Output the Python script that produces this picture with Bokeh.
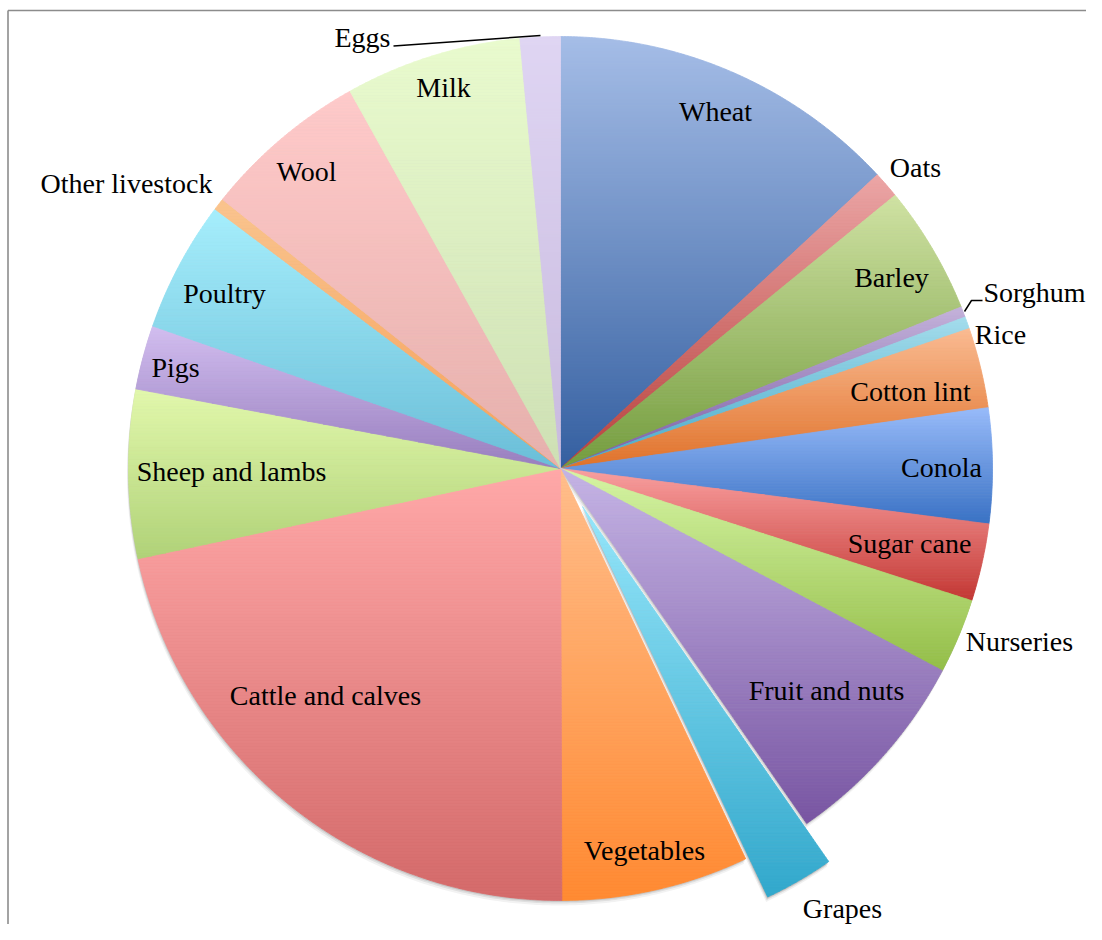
import numpy as np
from bokeh.plotting import figure
from bokeh.models import Range1d, ColumnDataSource
from bokeh.core.properties import value
from bokeh.embed import file_html
from bokeh.resources import INLINE

# ---------------- data ----------------
categories = ["Wheat", "Oats", "Barley", "Sorghum", "Rice", "Cotton lint", "Conola",
              "Sugar cane", "Nurseries", "Fruit and nuts", "Grapes", "Vegetables",
              "Cattle and calves", "Sheep and lambs", "Pigs", "Poultry",
              "Other livestock", "Wool", "Milk", "Eggs"]
shares = [13.1, 1.0, 4.8, 0.4, 0.45, 3.0, 4.3, 2.9, 2.8, 7.6, 2.6, 7.0,
          21.7, 6.3, 2.4, 4.9, 0.45, 6.2, 6.6, 1.5]
exploded = ["Grapes"]

# ---------------- styles ----------------
top_colors = [(165, 189, 231), (236, 166, 166), (207, 226, 163), (196, 178, 218),
              (165, 220, 236), (250, 187, 146), (152, 187, 250), (250, 160, 160),
              (214, 245, 165), (197, 180, 229), (150, 230, 250), (255, 190, 140),
              (255, 168, 168), (226, 248, 172), (210, 190, 240), (166, 238, 252),
              (250, 196, 142), (255, 202, 202), (233, 251, 206), (223, 213, 243)]
bot_colors = [(52, 95, 160), (183, 64, 60), (116, 156, 62), (121, 92, 165),
              (70, 170, 200), (224, 114, 42), (58, 114, 196), (195, 56, 52),
              (148, 190, 72), (120, 85, 162), (50, 168, 204), (255, 138, 50),
              (212, 106, 106), (176, 210, 120), (152, 126, 190), (106, 190, 216),
              (245, 160, 90), (230, 176, 172), (206, 224, 180), (200, 186, 222)]

# label anchors (x centre, y) in picture pixels
label_pos = {
    "Wheat": (715, 111), "Oats": (915, 167), "Barley": (891, 277),
    "Sorghum": (1034, 292), "Rice": (1000, 334), "Cotton lint": (910, 391),
    "Conola": (941, 467), "Sugar cane": (909, 543), "Nurseries": (1019, 641),
    "Fruit and nuts": (826, 690), "Grapes": (842, 908), "Vegetables": (644, 850),
    "Cattle and calves": (325, 695), "Sheep and lambs": (231, 471),
    "Pigs": (175, 367), "Poultry": (224, 293), "Other livestock": (126, 183),
    "Wool": (306, 171), "Milk": (443, 87), "Eggs": (362, 37),
}
leaders = [([393, 540], [45.5, 35]), ([964, 971, 982], [311, 300, 300])]

CX, CY, R = 560.0, 468.0, 432.0
EXPLODE = 44.0
W, H = 1086, 924


def wedge_poly(cx, cy, r, a0, a1):
    n = max(3, int(np.ceil((a1 - a0) / 0.4)) + 1)
    t = np.radians(np.linspace(a0, a1, n))
    xs = [cx] + list(cx + r * np.sin(t))
    ys = [cy] + list(cy - r * np.cos(t))
    return xs, ys


def clip_half(pts, keep_above, yc):
    out = []
    n = len(pts)
    for i in range(n):
        cur, prev = pts[i], pts[i - 1]
        ci = cur[1] >= yc if keep_above else cur[1] <= yc
        pi = prev[1] >= yc if keep_above else prev[1] <= yc
        if ci:
            if not pi:
                tt = (yc - prev[1]) / (cur[1] - prev[1])
                out.append((prev[0] + tt * (cur[0] - prev[0]), yc))
            out.append(cur)
        elif pi:
            tt = (yc - prev[1]) / (cur[1] - prev[1])
            out.append((prev[0] + tt * (cur[0] - prev[0]), yc))
    return out


def hexcol(c):
    return "#%02x%02x%02x" % tuple(int(round(v)) for v in c)


p = figure(width=W, height=H, output_backend="svg", toolbar_location=None,
           x_range=Range1d(0, W), y_range=Range1d(H, 0),
           x_axis_type=None, y_axis_type=None, min_border=0)
p.grid.visible = False
p.outline_line_color = None
p.background_fill_color = "white"

total = float(sum(shares))
angles = np.cumsum([0.0] + [s / total * 360.0 for s in shares])

# shadow of the non-exploded pie and of the exploded slice
ex_idx = [categories.index(e) for e in exploded]
for i in ex_idx:
    a0, a1 = angles[i], angles[i + 1]
    sx, sy = wedge_poly(CX, CY, R, a1, a0 + 360.0)
    for dx, dy, al in [(-0.5, 1.5, 0.10), (-1, 3, 0.08), (-1.5, 5, 0.05)]:
        p.patch([x + dx for x in sx], [y + dy for y in sy], fill_color="black",
                fill_alpha=al, line_color=None)
    mid = np.radians((a0 + a1) / 2)
    ox, oy = EXPLODE * np.sin(mid), -EXPLODE * np.cos(mid)
    gx, gy = wedge_poly(CX + ox, CY + oy, R, a0, a1)
    for dx, dy, al in [(-0.5, 1.5, 0.14), (-1, 3, 0.10), (-1.5, 5, 0.06)]:
        p.patch([x + dx for x in gx], [y + dy for y in gy], fill_color="black",
                fill_alpha=al, line_color=None)

# gradient strips for each slice
xs_all, ys_all, cols = [], [], []
for i, cat in enumerate(categories):
    a0, a1 = angles[i], angles[i + 1]
    cx, cy = CX, CY
    if cat in exploded:
        mid = np.radians((a0 + a1) / 2)
        cx += EXPLODE * np.sin(mid)
        cy -= EXPLODE * np.cos(mid)
    px, py = wedge_poly(cx, cy, R, a0, a1)
    pts = list(zip(px, py))
    ymin, ymax = min(py), max(py)
    nb = max(2, int(np.ceil((ymax - ymin) / 3.0)))
    edges = np.linspace(ymin, ymax, nb + 1)
    c0 = np.array(top_colors[i], float)
    c1 = np.array(bot_colors[i], float)
    for b in range(nb):
        y0, y1 = edges[b], edges[b + 1]
        q = clip_half(pts, True, y0)
        if len(q) < 3:
            continue
        q = clip_half(q, False, y1)
        if len(q) < 3:
            continue
        t = ((y0 + y1) / 2 - ymin) / (ymax - ymin)
        col = hexcol(c0 + (c1 - c0) * t)
        xs_all.append([v[0] for v in q])
        ys_all.append([v[1] for v in q])
        cols.append(col)

src = ColumnDataSource(dict(xs=xs_all, ys=ys_all, c=cols))
p.patches("xs", "ys", source=src, fill_color="c", line_color="c", line_width=0.8)

# leader lines
for lx, ly in leaders:
    p.line(lx, ly, line_color="black", line_width=1.5)

# labels
lsrc = ColumnDataSource(dict(x=[label_pos[c][0] for c in categories],
                             y=[label_pos[c][1] for c in categories],
                             t=categories))
p.text("x", "y", text="t", source=lsrc, text_align="center",
       text_baseline="alphabetic", text_font=value("Liberation Serif"),
       text_font_size="28px", text_color="#000000")

# chart-area frame (only left and top edges are visible)
p.line([7.5, 7.5], [H, 10], line_color="#8c8c8c", line_width=1.6)
p.line([7.5, W], [10, 10], line_color="#8c8c8c", line_width=1.6)

open("out.html", "w").write(file_html(p, INLINE))
